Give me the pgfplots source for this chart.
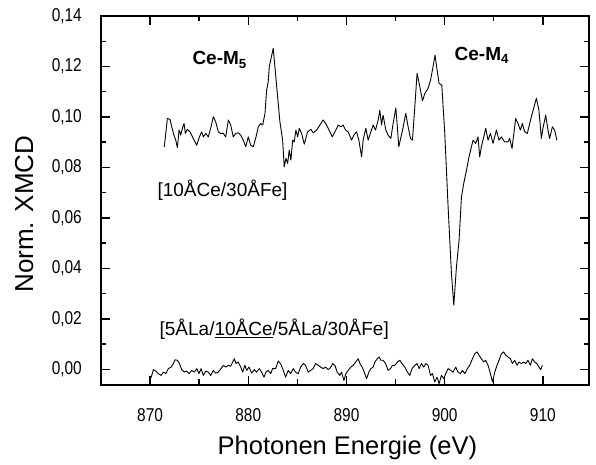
\documentclass[border=0pt]{standalone}
\usepackage{fontspec}
\setmainfont{Liberation Sans}
\newfontfamily\tickfont[FakeStretch=0.83]{Liberation Sans}
\usepackage{pgfplots}
\pgfplotsset{compat=1.18}

\begin{document}
\begin{tikzpicture}
\begin{axis}[
  scale only axis,
  width=488pt, height=369pt,
  xmin=865, xmax=914.7,
  ymin=-0.0062, ymax=0.14,
  xtick={870,880,890,900,910},
  ytick={0,0.02,0.04,0.06,0.08,0.10,0.12,0.14},
  minor x tick num=1,
  minor y tick num=1,
  tick align=inside,
  major tick length=9pt,
  minor tick length=5.5pt,
  axis line style={line width=1.6pt},
  every tick/.style={black, line width=1.4pt},
  /pgf/number format/assume math mode=true,
  tick label style={font=\fontsize{18.6pt}{22pt}\tickfont, inner sep=0pt},
  xticklabel style={anchor=base, /pgf/number format/1000 sep={}},
  xticklabel shift=36pt,
  yticklabel style={anchor=east, xshift=-19pt,
    /pgf/number format/.cd, fixed, fixed zerofill, precision=2, use comma},
  xlabel={Photonen Energie (eV)},
  ylabel={Norm. XMCD},
  xlabel style={font=\fontsize{25.5pt}{30pt}\selectfont, inner sep=0pt,
    at={(axis description cs:0.505,-0.188)}, anchor=base},
  ylabel style={font=\fontsize{26pt}{30pt}\selectfont, inner sep=0pt,
    at={(axis description cs:-0.139,0.463)}, anchor=base},
]
% [10ACe/30AFe]
\addplot[black, line width=0.9pt, line join=round] coordinates {
(871.45,0.0882) (871.76,0.0994) (872.03,0.0990) (872.37,0.0935) (872.61,0.0908)
(872.78,0.0879) (872.95,0.0948) (873.12,0.0928) (873.29,0.0955) (873.46,0.0974)
(873.59,0.0935) (873.79,0.0951) (874.07,0.0941) (874.40,0.0915) (874.75,0.0888)
(875.02,0.0921) (875.26,0.0941) (875.42,0.0921) (875.67,0.0935) (875.93,0.0921)
(876.17,0.0955) (876.44,0.1001) (876.68,0.0981) (876.95,0.0941) (877.19,0.0935)
(877.46,0.0935) (877.70,0.0921) (877.97,0.0988) (878.21,0.0968) (878.47,0.0921)
(878.72,0.0935) (878.98,0.0937) (879.23,0.0928) (879.49,0.0908) (879.74,0.0882)
(880.00,0.0921) (880.24,0.0888) (880.51,0.0882) (880.75,0.0915) (881.02,0.0961)
(881.26,0.0974) (881.47,0.0968) (881.70,0.1014) (881.87,0.1107) (882.03,0.1139)
(882.14,0.1199) (882.54,0.1272) (883.22,0.0981) (883.50,0.0908) (883.66,0.0802)
(883.84,0.0836) (884.01,0.0816) (884.17,0.0869) (884.34,0.0829) (884.52,0.0908)
(884.68,0.0901) (884.85,0.0948) (885.03,0.0921) (885.19,0.0955) (885.43,0.0935)
(885.70,0.0892) (886.04,0.0941) (886.38,0.0951) (886.61,0.0937) (886.96,0.0948)
(887.29,0.0968) (887.63,0.0988) (887.98,0.0968) (888.31,0.0941) (888.55,0.0921)
(888.82,0.0941) (889.16,0.0968) (889.43,0.0961) (889.66,0.0968) (889.91,0.0948)
(890.17,0.0941) (890.52,0.0908) (890.75,0.0928) (891.03,0.0941) (891.26,0.0908)
(891.54,0.0842) (891.70,0.0908) (891.97,0.0955) (892.21,0.0908) (892.48,0.0941)
(892.72,0.0968) (892.96,0.0948) (893.23,0.0988) (893.40,0.1027) (893.57,0.0968)
(893.73,0.1007) (894.01,0.0948) (894.24,0.0928) (894.52,0.0915) (894.75,0.0974)
(895.03,0.1036) (895.33,0.0882) (895.71,0.0948) (896.04,0.1014) (896.28,0.0961)
(896.52,0.0915) (896.72,0.0908) (896.96,0.1040) (897.19,0.1173) (897.47,0.1120)
(897.74,0.1064) (897.98,0.1093) (898.31,0.1113) (898.56,0.1146) (898.82,0.1199)
(899.02,0.1245) (899.23,0.1186) (899.43,0.1133) (899.71,0.1126) (900.01,0.0935)
(900.35,0.0644) (900.69,0.0380) (900.93,0.0254) (901.20,0.0406) (901.47,0.0512)
(901.71,0.0683) (901.94,0.0736) (902.22,0.0789) (902.48,0.0842) (902.73,0.0882)
(902.89,0.0908) (903.16,0.0895) (903.40,0.0921) (903.57,0.0842) (903.74,0.0882)
(903.98,0.0921) (904.18,0.0955) (904.42,0.0908) (904.66,0.0935) (904.92,0.0895)
(905.27,0.0948) (905.53,0.0908) (905.78,0.0921) (906.11,0.0901) (906.45,0.0901)
(906.62,0.0915) (906.86,0.0875) (907.23,0.0994) (907.47,0.0974) (907.71,0.0948)
(907.91,0.0974) (908.15,0.0941) (908.42,0.0935) (908.83,0.1001) (909.34,0.1074)
(909.60,0.1027) (909.85,0.0915) (910.01,0.0955) (910.29,0.1007) (910.52,0.0948)
(910.69,0.0915) (910.97,0.0961) (911.20,0.0948) (911.43,0.0908)
};
% [5ALa/10ACe/5ALa/30AFe]
\addplot[black, line width=0.9pt, line join=round] coordinates {
(870.10,-0.0033) (870.34,-0.0001) (870.58,-0.0007) (870.84,-0.0017) (871.12,-0.0024)
(871.35,-0.0011) (871.60,-0.0017) (871.86,0.0003) (872.14,0.0009) (872.37,0.0023)
(872.54,0.0038) (872.78,0.0036) (872.98,0.0023) (873.22,-0.0001) (873.49,-0.0011)
(873.73,-0.0007) (873.97,-0.0017) (874.24,-0.0004) (874.51,-0.0011) (874.75,0.0003)
(874.98,-0.0017) (875.19,0.0003) (875.42,-0.0024) (875.67,-0.0007) (875.93,-0.0011)
(876.17,-0.0024) (876.44,-0.0004) (876.68,-0.0015) (876.95,-0.0011) (877.22,0.0003)
(877.46,0.0016) (877.70,0.0009) (877.97,0.0016) (878.21,0.0012) (878.41,0.0029)
(878.58,0.0042) (878.75,0.0023) (878.98,0.0029) (879.23,0.0009) (879.43,-0.0011)
(879.66,0.0016) (879.84,-0.0004) (880.07,0.0009) (880.35,-0.0015) (880.61,-0.0001)
(880.85,-0.0011) (881.12,0.0003) (881.36,-0.0011) (881.60,-0.0031) (881.80,-0.0011)
(882.03,-0.0004) (882.28,-0.0017) (882.48,0.0003) (882.79,0.0003) (883.05,0.0033)
(883.33,0.0020) (883.56,-0.0004) (883.80,-0.0031) (884.07,-0.0004) (884.31,-0.0017)
(884.58,0.0003) (884.82,-0.0011) (885.09,-0.0017) (885.33,0.0009) (885.60,0.0023)
(885.84,0.0016) (886.10,-0.0011) (886.35,-0.0004) (886.61,0.0003) (886.86,0.0023)
(887.12,0.0016) (887.37,0.0009) (887.63,0.0003) (887.87,0.0009) (888.14,-0.0001)
(888.38,0.0007) (888.59,0.0023) (888.82,0.0016) (889.05,-0.0011) (889.33,-0.0024)
(889.50,-0.0011) (889.74,-0.0044) (889.94,-0.0017) (890.17,-0.0004) (890.45,0.0009)
(890.68,0.0016) (890.93,0.0029) (891.20,0.0042) (891.37,0.0023) (891.60,0.0009)
(891.81,-0.0011) (892.05,-0.0037) (892.28,-0.0011) (892.48,0.0003) (892.72,0.0009)
(892.89,0.0029) (893.13,0.0042) (893.33,0.0049) (893.50,0.0036) (893.73,0.0036)
(893.98,0.0023) (894.24,-0.0004) (894.49,0.0003) (894.69,0.0016) (894.92,0.0016)
(895.20,0.0029) (895.43,0.0036) (895.66,0.0023) (895.94,0.0009) (896.21,-0.0011)
(896.45,-0.0024) (896.68,0.0003) (896.96,0.0016) (897.19,0.0023) (897.40,0.0003)
(897.64,0.0023) (897.87,0.0009) (898.08,0.0023) (898.31,0.0016) (898.56,-0.0024)
(898.76,-0.0017) (898.99,-0.0050) (899.23,-0.0031) (899.43,-0.0057) (899.67,-0.0024)
(899.91,-0.0037) (900.11,-0.0017) (900.35,0.0003) (900.62,-0.0004) (900.86,-0.0011)
(901.13,0.0009) (901.36,-0.0011) (901.61,-0.0017) (901.81,-0.0004) (902.05,-0.0017)
(902.32,0.0003) (902.55,0.0016) (902.83,0.0042) (903.06,0.0062) (903.30,0.0069)
(903.50,0.0056) (903.74,0.0042) (903.98,0.0029) (904.18,0.0036) (904.42,0.0016)
(904.66,-0.0017) (904.87,-0.0050) (905.10,-0.0011) (905.33,0.0016) (905.53,0.0036)
(905.78,0.0062) (906.01,0.0069) (906.22,0.0056) (906.45,0.0049) (906.69,0.0042)
(906.90,0.0023) (907.13,0.0036) (907.37,0.0016) (907.57,0.0029) (907.81,0.0023)
(908.05,0.0029) (908.25,0.0023) (908.48,0.0036) (908.73,0.0016) (908.93,0.0042)
(909.17,0.0029) (909.40,0.0023) (909.60,0.0009) (909.78,-0.0001) (909.95,0.0016)
};
\node[anchor=base west, inner sep=0pt, font=\fontsize{19pt}{22pt}\selectfont\bfseries]
  at (axis cs:874.3,0.1206) {Ce-M\textsubscript{5}};
\node[anchor=base west, inner sep=0pt, font=\fontsize{19pt}{22pt}\selectfont\bfseries]
  at (axis cs:901.0,0.1223) {Ce-M\textsubscript{4}};
\node[anchor=base west, inner sep=0pt, font=\fontsize{19pt}{22pt}\selectfont]
  at (axis cs:870.74,0.0686) {[10ÅCe/30ÅFe]};
\node[anchor=base west, inner sep=0pt, font=\fontsize{19pt}{22pt}\selectfont]
  at (axis cs:870.95,0.0135) {[5ÅLa/\underline{10ÅCe}/5ÅLa/30ÅFe]};
\end{axis}
\pgfresetboundingbox
\path[use as bounding box] (-101pt,-80pt) rectangle (495pt,385pt);
\end{tikzpicture}
\end{document}
